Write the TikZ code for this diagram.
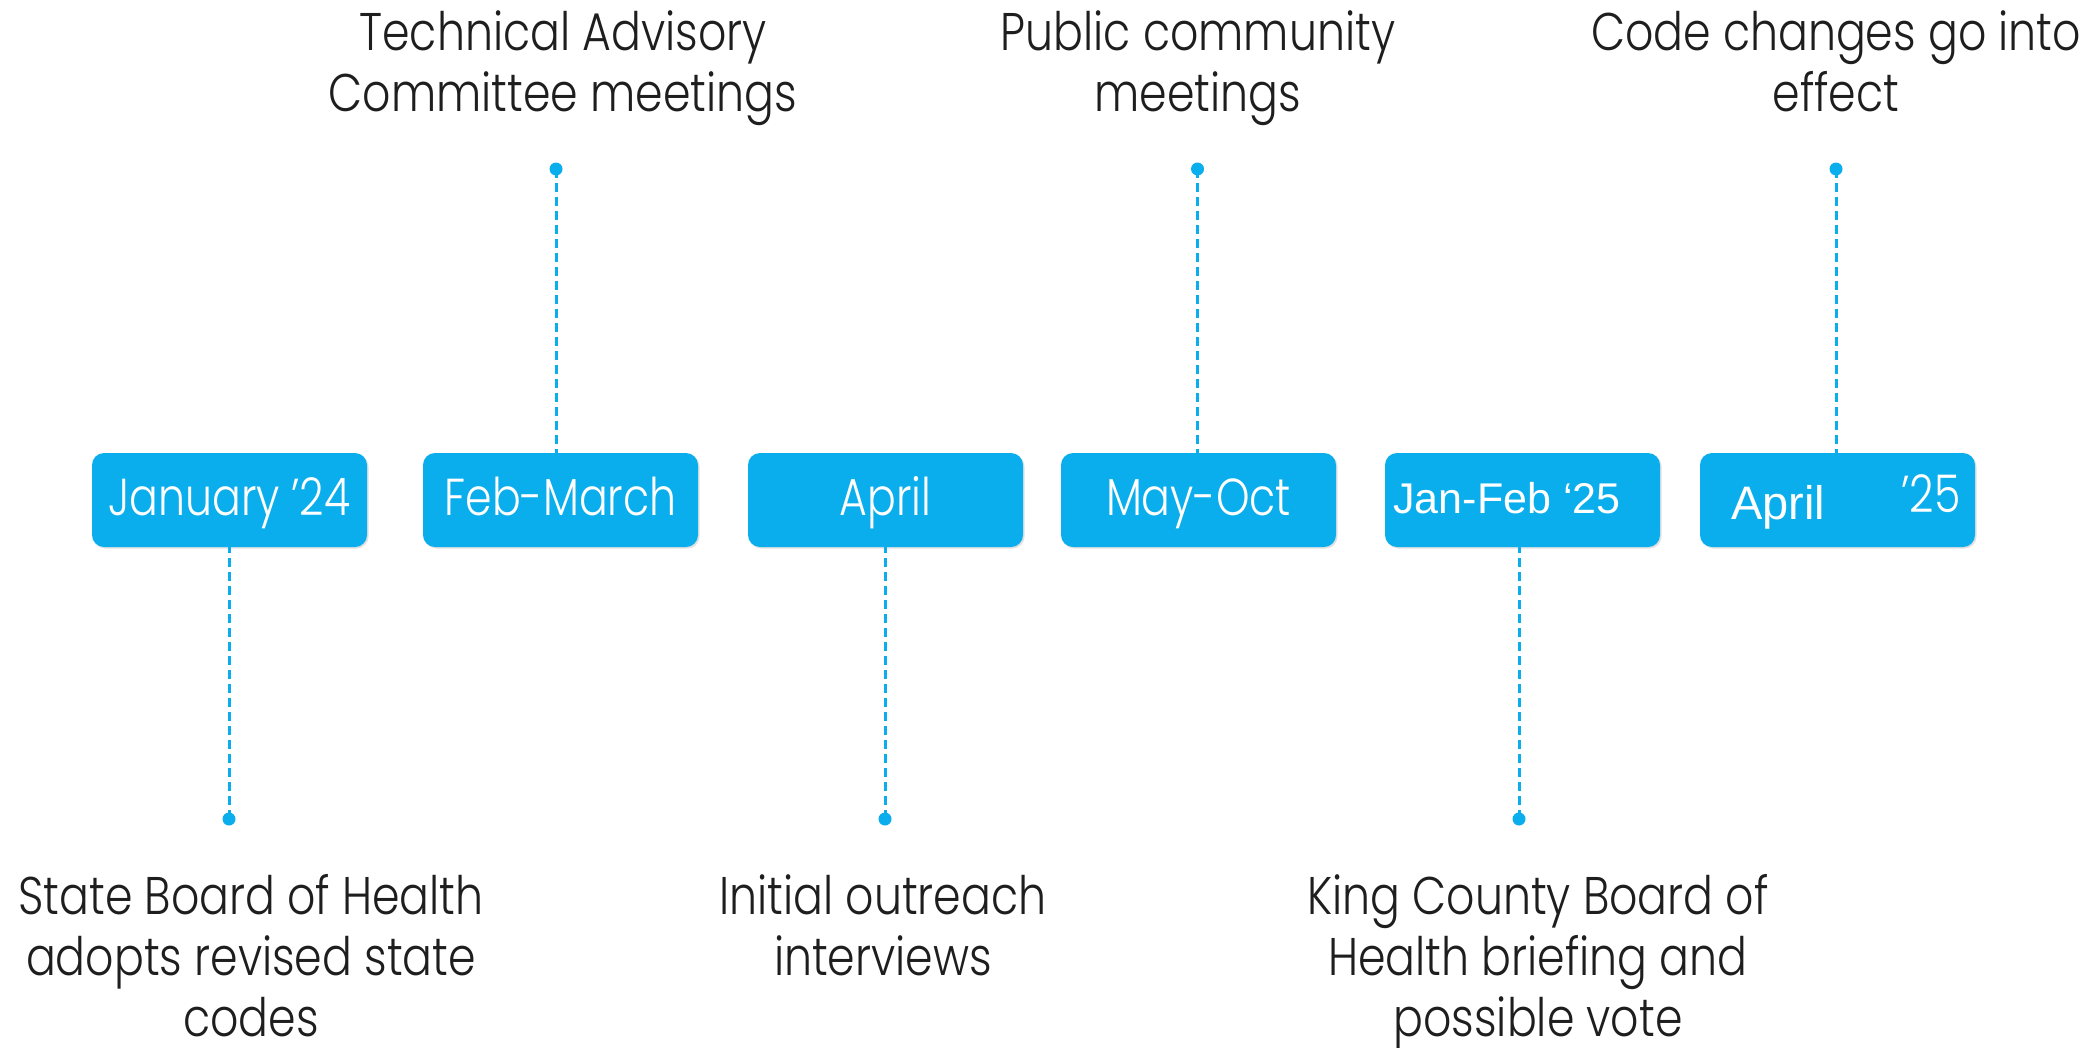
\documentclass[tikz,border=0pt]{standalone}
\usepackage{fontspec}
\usetikzlibrary{shadows}
\newfontfamily\lblfont{Poppins}[UprightFont=* Light, FakeStretch=0.835]
\newfontfamily\boxfont{Poppins}[UprightFont=* Light, FakeStretch=0.82]
\newfontfamily\arialfont{Liberation Sans}
\definecolor{tlblue}{RGB}{10,174,236}
\definecolor{tltext}{RGB}{30,30,30}
\tikzset{
  datebox/.style={fill=tlblue, rounded corners=12pt, minimum width=275pt, minimum height=94pt,
    inner sep=0pt, text=white, font=\boxfont\fontsize{52}{60}\selectfont,
    text height=37pt, text depth=7pt,
    drop shadow={shadow xshift=1.5pt, shadow yshift=-1.5pt, opacity=0.12, fill=black}},
  lbl/.style={align=center, anchor=base, inner sep=0pt, text=tltext,
    font=\lblfont\fontsize{53}{61}\selectfont},
  dot/.style={circle, fill=tlblue, inner sep=0pt, minimum size=13pt},
  conn/.style={draw=tlblue, line width=3pt, dash pattern=on 9pt off 5pt},
}
\begin{document}
\begin{tikzpicture}[x=1pt, y=-1pt]
\useasboundingbox (0,0) rectangle (2091,1047);
% date boxes
\node[datebox] (b1) at (229.5,500) {January ’24};
\node[datebox] (b2) at (560.5,500) {Feb-March};
\node[datebox] (b3) at (885.5,500) {April};
\node[datebox] (b4) at (1198.5,500) {May-Oct};
\node[datebox] (b5) at (1522.5,500) {};
\node[datebox] (b6) at (1837.5,500) {};
\node[anchor=base, inner sep=0pt, text=white, font=\arialfont\fontsize{43}{50}\selectfont] (t5) at (1507,513) {Jan-Feb ‘25};
\node[anchor=base, inner sep=0pt, text=white, font=\arialfont\fontsize{47}{55}\selectfont] (t6a) at (1778,519) {April};
\node[anchor=base, inner sep=0pt, text=white, font=\boxfont\fontsize{52}{60}\selectfont] (t6b) at (1931,512) {’25};
% dots
\node[dot] (d2) at (556,169) {};
\node[dot] (d4) at (1197.5,169) {};
\node[dot] (d6) at (1836,169) {};
\node[dot] (d1) at (229,819) {};
\node[dot] (d3) at (885,819) {};
\node[dot] (d5) at (1519,819) {};
% connectors
\draw[conn] (d2.center) -- (d2 |- b2.north);
\draw[conn] (d4.center) -- (d4 |- b4.north);
\draw[conn] (d6.center) -- (d6 |- b6.north);
\draw[conn] (d1.center) -- (d1 |- b1.south);
\draw[conn] (d3.center) -- (d3 |- b3.south);
\draw[conn] (d5.center) -- (d5 |- b5.south);
% labels (anchor base = baseline of the last line)
\node[lbl] (l2) at (563,111) {Technical Advisory\\Committee meetings};
\node[lbl] (l4) at (1198,111) {Public community\\meetings};
\node[lbl] (l6) at (1836,111) {Code changes go into\\effect};
\node[lbl] (l1) at (251,1036) {State Board of Health\\adopts revised state\\codes};
\node[lbl] (l3) at (883,975) {Initial outreach\\interviews};
\node[lbl] (l5) at (1538,1036) {King County Board of\\Health briefing and\\possible vote};
\end{tikzpicture}
\end{document}
